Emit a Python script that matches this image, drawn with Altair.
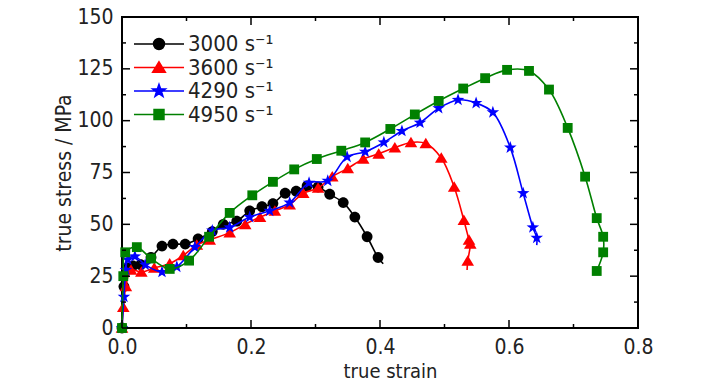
import altair as alt
import pandas as pd
import math

FONT = "Liberation Sans Narrow, DejaVu Sans Condensed, sans-serif"

series = ["3000 s\u207b\u00b9", "3600 s\u207b\u00b9", "4290 s\u207b\u00b9", "4950 s\u207b\u00b9"]
colors = ["#000000", "#ff0000", "#0000ff", "#008000"]

# 3000 s^-1
black_strain = [0, 0.003, 0.008, 0.017, 0.029, 0.045, 0.062, 0.079, 0.098, 0.118, 0.14, 0.157,
                0.178, 0.198, 0.217, 0.234, 0.253, 0.270, 0.287, 0.304, 0.322, 0.343, 0.361, 0.380, 0.397]
black_stress = [0, 20, 29, 30, 30.5, 34, 39.5, 40.5, 40.5, 43, 46.5, 50,
                51.5, 56.5, 58.5, 60, 65, 66, 68.5, 68, 64.5, 60.5, 53.5, 44, 34]
black_tail = (0.405, 31)

# 3600 s^-1
red_strain = [0, 0.002, 0.006, 0.014, 0.03, 0.05, 0.074, 0.095, 0.116, 0.136, 0.167, 0.191, 0.214,
              0.237, 0.26, 0.281, 0.304, 0.326, 0.35, 0.374, 0.398, 0.423, 0.448, 0.471, 0.495,
              0.515, 0.530, 0.538, 0.540, 0.536]
red_stress = [0, 10, 20, 28, 27, 29, 31, 35, 40, 42.5, 46, 50, 53.5,
              56.5, 59.5, 65, 67.5, 73, 77, 81.5, 84, 87, 89.5, 89, 82,
              68, 52, 42.5, 40.5, 32.3]
red_tail = (0.535, 28)

# 4290 s^-1
blue_strain = [0, 0.003, 0.006, 0.009, 0.02, 0.036, 0.062, 0.085, 0.113, 0.14, 0.167, 0.198, 0.229,
               0.26, 0.29, 0.319, 0.349, 0.377, 0.406, 0.434, 0.462, 0.491, 0.521, 0.549, 0.575,
               0.602, 0.622, 0.637, 0.643]
blue_stress = [0, 15, 28, 33, 34.5, 30.5, 27, 29.5, 39, 47, 48.5, 53.5, 56.5,
               60.5, 70, 71, 82.5, 85, 89.5, 95, 99, 106, 110, 108.5, 104,
               87, 65, 48.5, 43.5]
blue_tail = (0.643, 40)

# 4950 s^-1
green_strain = [0, 0.002, 0.005, 0.023, 0.045, 0.074, 0.104, 0.135, 0.167, 0.202, 0.234, 0.267,
                0.302, 0.34, 0.377, 0.416, 0.454, 0.491, 0.529, 0.563, 0.597, 0.631, 0.662,
                0.691, 0.718, 0.736, 0.746, 0.746, 0.736]
green_stress = [0, 25, 36.5, 39, 33.5, 28.5, 32.5, 44, 55.5, 64, 70.5, 76.5,
                81.5, 85.5, 89.5, 96, 103, 109.5, 115.5, 120.5, 124.5, 124, 115,
                96.5, 73, 53, 44, 36.5, 27.5]
green_tail = None

x_major = [0, 0.2, 0.4, 0.6, 0.8]
x_minor = [0.1, 0.3, 0.5, 0.7]
y_major = [0, 25, 50, 75, 100, 125, 150]
y_minor = [12.5, 37.5, 62.5, 87.5, 112.5, 137.5]

W, H = 516, 311

# marker shapes (unit box, scaled by sqrt(size)/2)
def circle(r):
    return f"M{r},0A{r},{r} 0 1,1 {-r},0A{r},{r} 0 1,1 {r},0Z"

def triangle(s):
    return f"M0,{-0.95 * s}L{1.05 * s},{0.8 * s}L{-1.05 * s},{0.8 * s}Z"

def square(s):
    return f"M{-s},{-s}L{s},{-s}L{s},{s}L{-s},{s}Z"

def star(s):
    pts = []
    for k in range(10):
        r = s if k % 2 == 0 else s * 0.4
        a = math.radians(-90 + 36 * k)
        pts.append(f"{r * math.cos(a):.3f},{r * math.sin(a):.3f}")
    return "M" + "L".join(pts) + "Z"

marker_paths = [circle(0.9), triangle(1.0), star(1.1), square(0.82)]
LEG_HALF = 4.17
legend_paths = [f"M{-LEG_HALF},0L{LEG_HALF},0" + p for p in marker_paths]

all_strain = [black_strain, red_strain, blue_strain, green_strain]
all_stress = [black_stress, red_stress, blue_stress, green_stress]
tails = [black_tail, red_tail, blue_tail, green_tail]

xscale = alt.Scale(domain=[0, 0.8], nice=False, zero=False)
yscale = alt.Scale(domain=[0, 150], nice=False, zero=False)

x_axis = alt.Axis(values=x_major, format=".1f", ticks=False, domain=False, grid=False,
                  labelFlush=False, labelOverlap=False,
                  labelFontSize=21, labelFont=FONT, labelColor="#222", labelPadding=8.5,
                  title="true strain", titleFontSize=20, titleFont=FONT, titleColor="#222",
                  titleFontWeight="normal", titlePadding=3.5, titleX=268)
y_axis = alt.Axis(values=y_major, ticks=False, domain=False, grid=False,
                  labelFlush=False, labelOverlap=False,
                  labelFontSize=21, labelFont=FONT, labelColor="#222", labelPadding=9,
                  title="true stress / MPa", titleFontSize=21, titleFont=FONT, titleColor="#222",
                  titleFontWeight="normal", titlePadding=2)

X = alt.X("strain:Q", scale=xscale, axis=x_axis)
Y = alt.Y("stress:Q", scale=yscale, axis=y_axis)

layers = []
for i, name in enumerate(series):
    xs, ys = all_strain[i], all_stress[i]
    lx, ly = list(xs), list(ys)
    if tails[i] is not None:
        lx.append(tails[i][0])
        ly.append(tails[i][1])
    ldf = pd.DataFrame({"strain": lx, "stress": ly, "idx": range(len(lx))})
    pdf = pd.DataFrame({"strain": xs, "stress": ys})
    line = alt.Chart(ldf).mark_line(interpolate="catmull-rom", strokeWidth=1.6,
                                    color=colors[i]).encode(x=X, y=Y, order=alt.Order("idx:Q"))
    pts = alt.Chart(pdf).mark_point(filled=True, opacity=1, size=144,
                                    shape=marker_paths[i], color=colors[i],
                                    strokeWidth=0).encode(x=X, y=Y)
    layers += [line, pts]

legend = alt.Legend(title=None, orient="none", legendX=26, legendY=16,
                    symbolSize=144, symbolStrokeWidth=1.6, symbolOpacity=1,
                    labelFontSize=22, labelFont=FONT, labelColor="#222",
                    labelOffset=18, rowPadding=1.5, padding=0, labelLimit=300)
legend_df = pd.DataFrame({"series": series})
leg_layer = alt.Chart(legend_df).mark_point(filled=True, opacity=0, size=144).encode(
    color=alt.Color("series:N", scale=alt.Scale(domain=series, range=colors), legend=legend),
    stroke=alt.Stroke("series:N", scale=alt.Scale(domain=series, range=colors), legend=legend),
    shape=alt.Shape("series:N", scale=alt.Scale(domain=series, range=legend_paths), legend=legend),
)
layers.append(leg_layer)

# inside ticks on all four sides
def xticks(vals, L):
    df = pd.DataFrame({"strain": vals})
    bottom = alt.Chart(df).mark_rule(color="black", strokeWidth=1.5).encode(
        x=X, y=alt.value(H), y2=alt.value(H - L))
    top = alt.Chart(df).mark_rule(color="black", strokeWidth=1.5).encode(
        x=X, y=alt.value(0), y2=alt.value(L))
    return [bottom, top]

def yticks(vals, L):
    df = pd.DataFrame({"stress": vals})
    left = alt.Chart(df).mark_rule(color="black", strokeWidth=1.5).encode(
        y=Y, x=alt.value(0), x2=alt.value(L))
    right = alt.Chart(df).mark_rule(color="black", strokeWidth=1.5).encode(
        y=Y, x=alt.value(W), x2=alt.value(W - L))
    return [left, right]

tick_layers = xticks(x_major, 8) + xticks(x_minor, 4) + yticks(y_major, 8) + yticks(y_minor, 4)

chart = alt.layer(*layers, *tick_layers).properties(
    width=W, height=H,
    background="white",
    autosize=alt.AutoSizeParams(type="none"),
    padding={"left": 114, "top": 9, "right": 80, "bottom": 54},
).configure_view(stroke="black", strokeWidth=2)

chart.save("out.html", embed_options={"renderer": "svg", "actions": False})
